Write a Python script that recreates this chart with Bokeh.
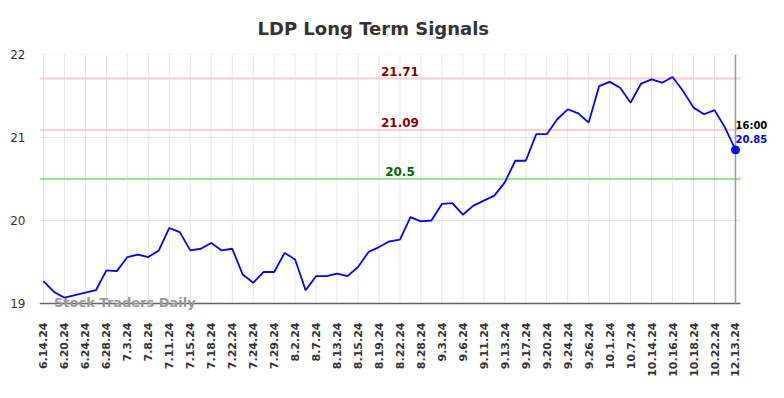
import math
from bokeh.plotting import figure
from bokeh.models import FixedTicker, Label
from bokeh.core.properties import value
from bokeh.embed import file_html
from bokeh.resources import INLINE

values = [19.27, 19.14, 19.07, 19.10, 19.13, 19.16, 19.40, 19.39, 19.56, 19.59,
          19.56, 19.64, 19.91, 19.86, 19.64, 19.66, 19.73, 19.64, 19.66, 19.35,
          19.25, 19.38, 19.38, 19.61, 19.53, 19.16, 19.33, 19.33, 19.36, 19.33,
          19.44, 19.62, 19.68, 19.75, 19.77, 20.04, 19.99, 20.00, 20.20, 20.21,
          20.07, 20.18, 20.24, 20.30, 20.46, 20.72, 20.72, 21.04, 21.04, 21.22,
          21.34, 21.29, 21.18, 21.62, 21.67, 21.60, 21.42, 21.65, 21.70, 21.66,
          21.73, 21.56, 21.36, 21.28, 21.33, 21.12, 20.85]

tick_labels = ["6.14.24", "6.20.24", "6.24.24", "6.28.24", "7.3.24", "7.8.24",
               "7.11.24", "7.15.24", "7.18.24", "7.22.24", "7.24.24", "7.29.24",
               "8.2.24", "8.7.24", "8.13.24", "8.15.24", "8.19.24", "8.22.24",
               "8.28.24", "9.3.24", "9.6.24", "9.11.24", "9.13.24", "9.17.24",
               "9.20.24", "9.24.24", "9.26.24", "10.1.24", "10.7.24", "10.14.24",
               "10.16.24", "10.18.24", "10.22.24", "12.13.24"]

y_ticks = [19, 20, 21, 22]
resistance_high = 21.71
resistance_low = 21.09
support = 20.5
last_time = "16:00"

FONT = "DejaVu Sans"

n = len(values)
xs = list(range(n))
tick_pos = list(range(0, n, 2))

x_lo = -0.38            # left edge of plotting area
x_hi = n - 1 + 0.48     # right end of grid / level lines
y_lo, y_hi = y_ticks[0], y_ticks[-1]

p = figure(width=768, height=382, output_backend="svg", toolbar_location=None,
           x_range=(x_lo, n - 1 + 3.15), y_range=(y_lo - 0.084, y_hi),
           min_border_left=39, min_border_right=0, min_border_top=53,
           min_border_bottom=72, background_fill_color="white",
           border_fill_color="white")
p.outline_line_color = None

p.title.text = "LDP Long Term Signals"
p.title.align = "left"
p.title.offset = 218
p.title.standoff = 31
p.title.text_font = FONT
p.title.text_font_size = "18px"
p.title.text_font_style = "bold"
p.title.text_color = "#333333"

# axes
p.xaxis.ticker = FixedTicker(ticks=tick_pos)
p.xaxis.major_label_overrides = {i: lab for i, lab in zip(tick_pos, tick_labels)}
p.xaxis.major_label_orientation = math.pi / 2
p.xaxis.major_label_text_font = FONT
p.xaxis.major_label_text_font_size = "11px"
p.xaxis.major_label_text_font_style = "bold"
p.xaxis.major_label_text_color = "#333333"
p.xaxis.major_tick_in = 0
p.xaxis.major_tick_out = 0
p.xaxis.minor_tick_in = 0
p.xaxis.minor_tick_out = 0
p.xaxis.major_label_standoff = 12
p.xaxis.axis_line_color = None

p.yaxis.ticker = FixedTicker(ticks=y_ticks)
p.yaxis.major_label_text_font = FONT
p.yaxis.major_label_text_font_size = "12px"
p.yaxis.major_label_text_color = "#333333"
p.yaxis.major_tick_in = 0
p.yaxis.major_tick_out = 0
p.yaxis.minor_tick_in = 0
p.yaxis.minor_tick_out = 0
p.yaxis.axis_line_color = None
p.yaxis.major_label_standoff = 14

p.xgrid.grid_line_color = None
p.ygrid.grid_line_color = None

# grid lines, limited to the chart area
p.segment(x0=tick_pos, y0=[y_lo] * len(tick_pos), x1=tick_pos, y1=[y_hi] * len(tick_pos),
          line_color="#e6e6e6", line_width=1)
p.segment(x0=[x_lo] * len(y_ticks), y0=y_ticks, x1=[x_hi] * len(y_ticks), y1=y_ticks,
          line_color="#e6e6e6", line_width=1)

# level lines
levels = [resistance_high, resistance_low, support]
p.segment(x0=[x_lo] * 3, y0=levels, x1=[x_hi] * 3, y1=levels,
          line_color=["#ffcccc", "#ffcccc", "#90ee90"], line_width=2)

# bottom axis line
p.segment(x0=[x_lo], y0=[y_lo], x1=[x_hi], y1=[y_lo], line_color="#666666", line_width=1.5)

# vertical marker at last point
p.segment(x0=[xs[-1]], y0=[y_lo], x1=[xs[-1]], y1=[y_hi], line_color="#999999", line_width=1.5)

# price line
p.line(xs, values, line_color="blue", line_width=1.8)
p.scatter([xs[-1]], [values[-1]], size=8, fill_color="blue", line_color="blue")

# level labels
mid = 34
p.text(x=[mid] * 3, y=levels, text=[f"{v}" for v in levels],
       text_color=["#8b0000", "#8b0000", "#006400"], text_align="center",
       text_baseline="bottom", y_offset=-3, text_font=value(FONT),
       text_font_size="12px", text_font_style="bold")

# last-point labels
p.text(x=[xs[-1]], y=[values[-1]], text=[last_time], text_align="left",
       text_baseline="middle", y_offset=-24, text_font=value(FONT),
       text_font_size="10px", text_font_style="bold", text_color="black")
p.text(x=[xs[-1]], y=[values[-1]], text=[f"{values[-1]}"], text_align="left",
       text_baseline="middle", y_offset=-11, text_font=value(FONT),
       text_font_size="10px", text_font_style="bold", text_color="blue")

# watermark
p.add_layout(Label(x=1, y=y_lo, text="Stock Traders Daily", text_align="left",
                   text_baseline="middle", y_offset=1, text_font=FONT,
                   text_font_size="13px", text_font_style="bold", text_color="#999999"))

open("out.html", "w").write(file_html(p, INLINE))
